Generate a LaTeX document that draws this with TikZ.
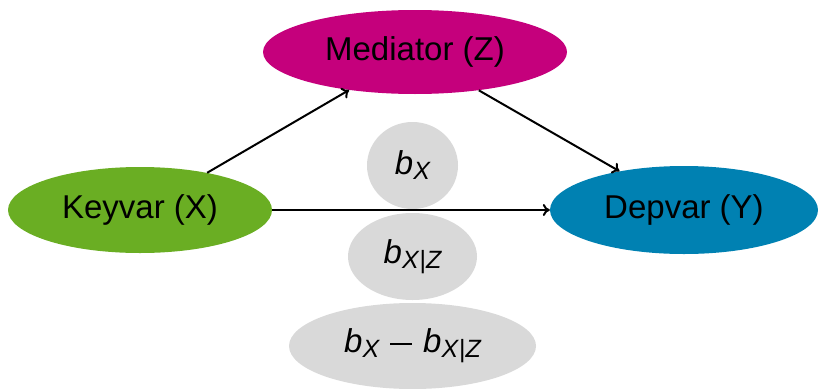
\documentclass[tikz,border=0pt]{standalone}
\usepackage{fontspec}
\setmainfont{Liberation Sans}
\usetikzlibrary{shapes.geometric,arrows.meta}
\definecolor{keygreen}{RGB}{106,174,35}
\definecolor{medmagenta}{RGB}{197,0,124}
\definecolor{depblue}{RGB}{0,129,178}
\definecolor{coefgray}{RGB}{217,217,217}
% coefficient b with an italic subscript
\newcommand{\coef}[1]{\textit{b}\raisebox{-5pt}{\fontsize{25}{30}\selectfont\itshape #1}}
\newcommand{\cond}{X\textup{|}Z}
% a long minus sign sized to the 33pt text
\newcommand{\longminus}{\hspace{11pt}\rule[8pt]{22pt}{1.8pt}\hspace{11pt}}
\begin{document}
\begin{tikzpicture}[x=1pt,y=-1pt,
  blob/.style={ellipse, inner sep=0pt, text=black,
    font=\fontsize{33}{40}\selectfont},
  coefblob/.style={blob, fill=coefgray},
  link/.style={-{Computer Modern Rightarrow[length=7pt,width=12pt]}, line width=2pt, black}]
  \useasboundingbox (0,0) rectangle (818,388);

  % variables
  \node[blob, fill=keygreen, minimum width=264pt, minimum height=86pt] (X) at (140,210) {Keyvar (X)};
  \node[blob, fill=medmagenta, minimum width=304pt, minimum height=84pt] (Z) at (415,52) {Mediator (Z)};
  \node[blob, fill=depblue, minimum width=268pt, minimum height=88pt] (Y) at (684,210) {Depvar (Y)};

  % coefficients
  \node[coefblob, minimum width=91pt, minimum height=87pt] (bx) at (412.5,165.5) {\coef{X}};
  \node[coefblob, minimum width=129pt, minimum height=87pt] (bxz) at (412.5,256.5) {\coef{\cond}};
  \node[coefblob, minimum width=247pt, minimum height=86pt] (diff) at (412.5,346) {\coef{X}\longminus\coef{\cond}};

  % paths
  \draw[link] (X.29) -- (Z.210.5);
  \draw[link] (Z.329.5) -- (Y.149);
  \draw[link] (X.east) -- (Y.west);
\end{tikzpicture}
\end{document}
